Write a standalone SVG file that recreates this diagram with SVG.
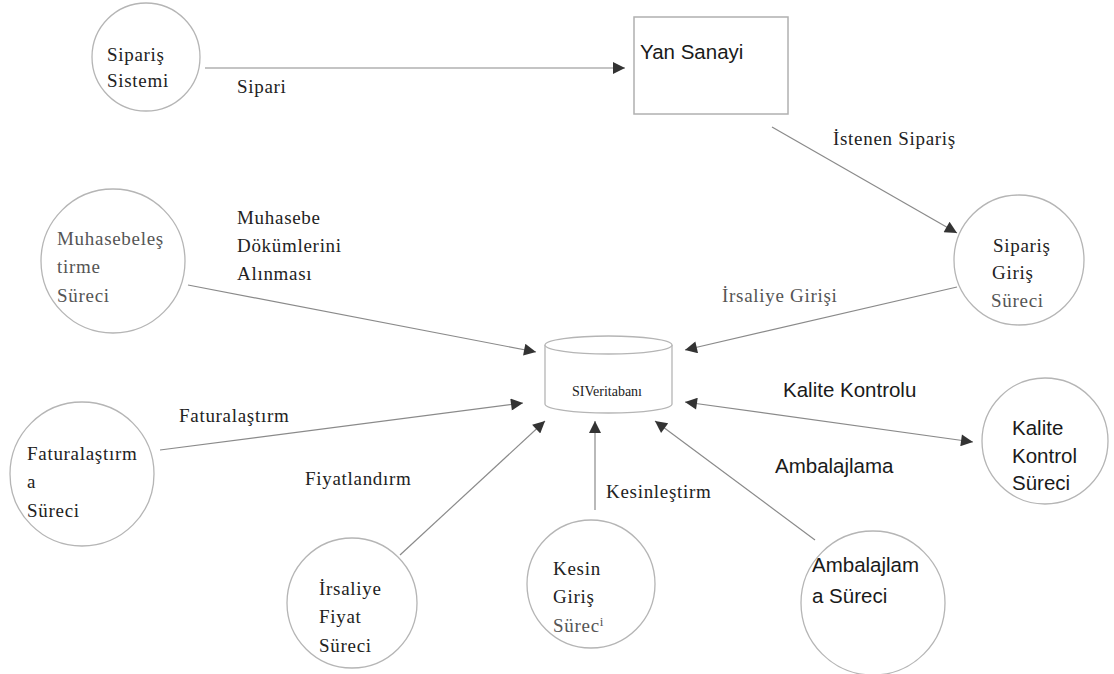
<svg xmlns="http://www.w3.org/2000/svg" width="1114" height="674" viewBox="0 0 1114 674">
  <style>
    .node { fill: #ffffff; stroke: #b5b5b5; stroke-width: 1.3; }
    .box { fill: #ffffff; stroke: #b0b0b0; stroke-width: 1.5; }
    .link { fill: none; stroke: #8a8a8a; stroke-width: 1.2; }
    .serif { font-family: "Liberation Serif", "Times New Roman", serif; font-size: 19px; fill: #222; letter-spacing: 0.7px; }
    .sans { font-family: "Liberation Sans", Arial, sans-serif; font-size: 20.5px; fill: #1a1a1a; }
    .muted { fill: #555; }
    .small { font-family: "Liberation Serif", "Times New Roman", serif; font-size: 14px; fill: #222; }
  </style>
  <defs>
    <marker id="head" viewBox="0 0 10 10" refX="10" refY="5" markerUnits="userSpaceOnUse" markerWidth="16" markerHeight="12" orient="auto">
      <path d="M0,0 L10,5 L0,10 z" fill="#333"/>
    </marker>
    <marker id="tail" viewBox="0 0 10 10" refX="0" refY="5" markerUnits="userSpaceOnUse" markerWidth="16" markerHeight="12" orient="auto">
      <path d="M10,0 L0,5 L10,10 z" fill="#333"/>
    </marker>
  </defs>
  <rect width="1114" height="674" fill="#ffffff"/>

  <!-- connectors -->
  <g id="connectors">
    <line class="link" x1="205" y1="68" x2="625" y2="68" marker-end="url(#head)"/>
    <line class="link" x1="772" y1="127" x2="957" y2="233" marker-end="url(#head)"/>
    <line class="link" x1="957" y1="287" x2="685" y2="350" marker-end="url(#head)"/>
    <line class="link" x1="188" y1="285" x2="536" y2="352" marker-end="url(#head)"/>
    <line class="link" x1="160" y1="450" x2="523" y2="403" marker-end="url(#head)"/>
    <line class="link" x1="400" y1="555" x2="545" y2="421" marker-end="url(#head)"/>
    <line class="link" x1="595" y1="510" x2="595" y2="421" stroke="#d8c8cc" marker-end="url(#head)"/>
    <line class="link" x1="815" y1="540" x2="655" y2="421" marker-end="url(#head)"/>
    <line class="link" x1="685" y1="402" x2="973" y2="442" marker-start="url(#tail)" marker-end="url(#head)"/>
  </g>

  <!-- connector labels -->
  <g id="labels">
    <text class="serif" x="237" y="93">Sipari</text>
    <text class="serif" x="833" y="145">İstenen Sipariş</text>
    <text class="serif muted" x="722" y="302">İrsaliye  Girişi</text>
    <text class="serif" x="237" y="224">Muhasebe</text>
    <text class="serif" x="237" y="252">Dökümlerini</text>
    <text class="serif" x="237" y="280">Alınması</text>
    <text class="serif" x="179" y="422">Faturalaştırm</text>
    <text class="serif" x="305" y="485">Fiyatlandırm</text>
    <text class="serif" x="606" y="498">Kesinleştirm</text>
    <text class="sans" x="783" y="397">Kalite Kontrolu</text>
    <text class="sans" x="775" y="473">Ambalajlama</text>
  </g>

  <g id="siparis-sistemi">
    <circle class="node" cx="146" cy="57" r="54"/>
    <text class="serif" x="107" y="61">Sipariş</text>
    <text class="serif" x="107" y="87">Sistemi</text>
  </g>

  <g id="yan-sanayi">
    <rect class="box" x="634" y="17" width="154" height="97"/>
    <text class="sans" x="640" y="59">Yan Sanayi</text>
  </g>

  <g id="siparis-giris">
    <circle class="node" cx="1019" cy="260" r="65"/>
    <text class="serif" x="993" y="252">Sipariş</text>
    <text class="serif" x="992" y="279">Giriş</text>
    <text class="serif muted" x="991" y="307">Süreci</text>
  </g>

  <g id="muhasebe">
    <circle class="node" cx="113" cy="261" r="72"/>
    <text class="serif muted" x="57" y="245">Muhasebeleş</text>
    <text class="serif muted" x="57" y="273">tirme</text>
    <text class="serif muted" x="57" y="302">Süreci</text>
  </g>

  <g id="veritabani">
    <path class="node" d="M545,345 L545,404 A63.5,9 0 0 0 672,404 L672,345"/>
    <ellipse class="node" cx="608.5" cy="345" rx="63.5" ry="9"/>
    <text class="small" x="607" y="396" text-anchor="middle">SIVeritabanı</text>
  </g>

  <g id="faturalastirma">
    <circle class="node" cx="82" cy="474" r="72"/>
    <text class="serif" x="27" y="460">Faturalaştırm</text>
    <text class="serif" x="27" y="488">a</text>
    <text class="serif" x="27" y="517">Süreci</text>
  </g>

  <g id="kalite-kontrol">
    <circle class="node" cx="1045" cy="441" r="63"/>
    <text class="sans" x="1012" y="435">Kalite</text>
    <text class="sans" x="1012" y="463">Kontrol</text>
    <text class="sans" x="1012" y="490">Süreci</text>
  </g>

  <g id="irsaliye-fiyat">
    <circle class="node" cx="352" cy="603" r="65"/>
    <text class="serif" x="319" y="595">İrsaliye</text>
    <text class="serif" x="319" y="623">Fiyat</text>
    <text class="serif" x="319" y="652">Süreci</text>
  </g>

  <g id="kesin-giris">
    <circle class="node" cx="591" cy="584" r="64"/>
    <text class="serif" x="553" y="575">Kesin</text>
    <text class="serif" x="553" y="603">Giriş</text>
    <text class="serif muted" x="553" y="632">Sürec<tspan dy="-6" font-size="13">i</tspan></text>
  </g>

  <g id="ambalajlama">
    <circle class="node" cx="873" cy="603" r="72"/>
    <text class="sans" x="812" y="572">Ambalajlam</text>
    <text class="sans" x="812" y="603">a Süreci</text>
  </g>
</svg>
